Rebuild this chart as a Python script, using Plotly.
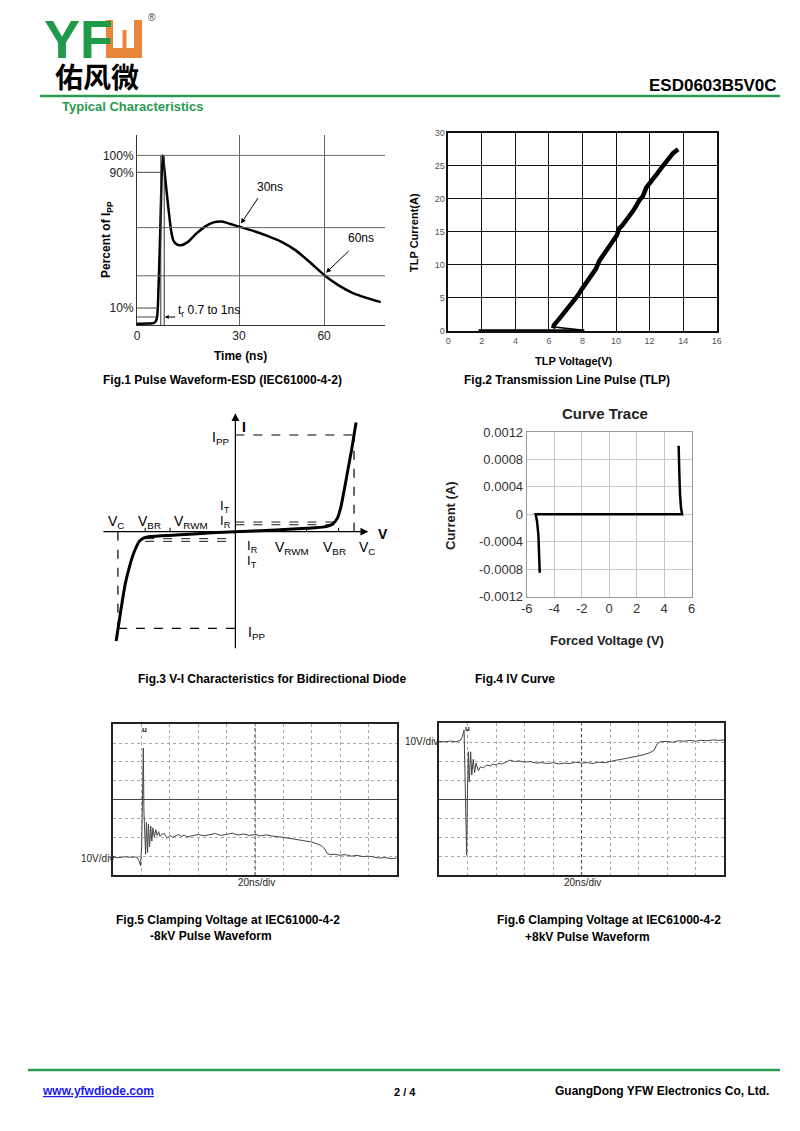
import plotly.graph_objects as go

W, H = 800, 1131
def PX(x): return x / W
def PY(y): return 1 - y / H

FONT = "Arial, Liberation Sans, Helvetica, sans-serif"
GREEN = "#2a9a50"
ORANGE = "#e8873c"

# ---------------- data ----------------
# Fig.1 ESD pulse waveform (time ns, percent of Ipp)
f1_time = [-6, -2, 0, 0.7, 1.1, 1.4, 2.2, 3.0, 3.4, 4.0, 5.0, 6.0, 6.8, 8.0, 9.5, 12, 15, 18, 21, 24, 27, 30, 35, 40, 45, 50, 55, 60, 65, 70, 75, 80]
f1_pct = [0.8, 0.9, 1.3, 2.5, 5, 12, 55, 100, 96, 86, 70, 56, 50, 47.5, 47, 49, 54, 58, 60.5, 61, 59.5, 58, 55.5, 52.5, 49, 44, 37, 29.5, 23.5, 19, 16, 13.5]
f1_xticks = ["0", "30", "60"]
f1_yticks = ["10%", "90%", "100%"]

# Fig.2 TLP
f2_base_v = [1.8, 8.1]
f2_base_i = [0.05, 0.05]
f2_ret_v = [6.3, 8.1]
f2_ret_i = [0.6, 0.1]
f2_v = [6.25, 6.3, 6.6, 7.0, 7.45, 7.7, 7.95, 8.3, 8.65, 8.8, 9.0, 9.35, 9.7, 9.9, 10.05, 10.2, 10.35, 10.7, 11.05, 11.4, 11.6, 11.8, 12.1, 12.3, 12.45, 12.8, 13.1, 13.4, 13.7]
f2_i = [0.4, 0.9, 1.8, 3.0, 4.3, 5.3, 6.3, 7.6, 9.0, 9.4, 10.6, 12.0, 13.2, 14.2, 14.5, 15.6, 15.9, 17.1, 18.3, 19.8, 20.4, 21.7, 22.6, 23.2, 23.8, 25.0, 26.0, 26.9, 27.5]

# Fig.3 schematic V-I curve (normalized units)
f3_v = [-1.005, -0.97, -0.93, -0.89, -0.85, -0.81, -0.77, -0.72, -0.5, -0.2, 0, 0.3, 0.6, 0.75, 0.82, 0.86, 0.89, 0.92, 0.95, 0.98, 1.017]
f3_i = [-1.13, -0.85, -0.55, -0.35, -0.2, -0.1, -0.065, -0.05, -0.035, -0.012, 0, 0.015, 0.035, 0.05, 0.08, 0.14, 0.26, 0.45, 0.65, 0.85, 1.13]

# Fig.4 Curve trace
f4_v = [-5.05, -5.08, -5.15, -5.25, -5.35, 0, 5.30, 5.22, 5.15, 5.10, 5.05]
f4_i = [-0.00085, -0.0006, -0.0003, -0.0001, 0, 0, 0, 0.0001, 0.0003, 0.0006, 0.001]
f4_xvals = [-6, -4, -2, 0, 2, 4, 6]
f4_xlabels = ["-6", "-4", "-2", "0", "2", "4", "6"]
f4_yvals = [0.0012, 0.0008, 0.0004, 0, -0.0004, -0.0008, -0.0012]
f4_ylabels = ["0.0012", "0.0008", "0.0004", "0", "-0.0004", "-0.0008", "-0.0012"]

# Fig.5 -8kV scope trace (divisions)
f5_x = [0, 0.2, 0.4, 0.6, 0.75, 0.85, 0.92, 0.96, 1.0, 1.04, 1.06, 1.08, 1.11, 1.14, 1.17, 1.21, 1.24, 1.28, 1.32, 1.36, 1.40, 1.45, 1.5, 1.55, 1.6, 1.65, 1.7, 1.8, 1.9, 2.0, 2.1, 2.2, 2.3, 2.4, 2.5, 2.6, 2.8, 3.0, 3.2, 3.4, 3.6, 3.8, 4.0, 4.2, 4.4, 4.6, 4.8, 5.0, 5.2, 5.4, 5.6, 5.8, 6.0, 6.2, 6.4, 6.6, 6.8, 7.0, 7.2, 7.35, 7.45, 7.55, 7.65, 7.8, 8.0, 8.2, 8.4, 8.6, 8.8, 9.0, 9.2, 9.4, 9.6, 9.8, 10]
f5_y = [-3.05, -3.08, -3.03, -3.06, -3.04, -3.08, -3.3, -3.5, -2.5, 0.5, 2.74, -0.6, -1.9, -2.9, -1.2, -2.8, -1.3, -2.5, -1.4, -2.2, -1.5, -2.0, -1.6, -1.9, -1.7, -1.95, -1.85, -1.8, -2.05, -1.9, -2.0, -1.92, -1.85, -1.95, -1.88, -1.98, -1.9, -1.85, -1.92, -1.88, -1.8, -1.9, -1.85, -1.78, -1.88, -1.82, -1.9, -1.85, -1.92, -1.87, -1.93, -1.95, -2.0, -2.05, -2.1, -2.12, -2.2, -2.25, -2.35, -2.45, -2.6, -2.85, -2.92, -2.9, -2.95, -2.92, -3.0, -2.96, -3.02, -3.0, -3.05, -3.1, -3.08, -3.13, -3.1]

# Fig.6 +8kV scope trace (divisions)
f6_x = [0, 0.2, 0.4, 0.6, 0.75, 0.82, 0.88, 0.92, 0.97, 1.0, 1.03, 1.06, 1.09, 1.11, 1.15, 1.2, 1.25, 1.3, 1.38, 1.45, 1.55, 1.67, 1.8, 1.9, 2.0, 2.1, 2.2, 2.35, 2.5, 2.65, 2.8, 3.0, 3.2, 3.4, 3.6, 3.8, 4.0, 4.2, 4.4, 4.6, 4.8, 5.0, 5.2, 5.4, 5.6, 5.8, 6.0, 6.2, 6.4, 6.6, 6.8, 7.0, 7.2, 7.4, 7.55, 7.65, 7.75, 8.0, 8.2, 8.4, 8.6, 8.8, 9.0, 9.2, 9.4, 9.6, 9.8, 10]
f6_y = [3.05, 3.02, 3.06, 3.03, 3.1, 3.3, 3.64, 1.0, -2.95, 0.5, 2.5, 0.9, 2.2, 2.5, 1.27, 2.1, 1.4, 1.9, 1.5, 1.7, 1.65, 1.8, 1.75, 1.85, 1.8, 1.9, 1.85, 1.95, 2.06, 1.98, 2.02, 1.95, 1.98, 1.9, 1.93, 1.88, 1.92, 1.86, 1.9, 1.88, 1.95, 1.9, 1.93, 1.88, 1.95, 1.92, 2.0, 2.05, 2.1, 2.15, 2.22, 2.28, 2.35, 2.45, 2.58, 2.9, 3.02, 3.05, 3.0, 3.08, 3.05, 3.1, 3.06, 3.1, 3.08, 3.12, 3.1, 3.12]

# ---------------- traces ----------------
traces = [
    go.Scatter(x=f1_time, y=f1_pct, xaxis="x", yaxis="y", mode="lines",
               line=dict(color="black", width=2.5, shape="spline", smoothing=0.5)),
    go.Scatter(x=f2_base_v, y=f2_base_i, xaxis="x2", yaxis="y2", mode="lines",
               line=dict(color="black", width=3)),
    go.Scatter(x=f2_ret_v, y=f2_ret_i, xaxis="x2", yaxis="y2", mode="lines",
               line=dict(color="black", width=1.5)),
    go.Scatter(x=f2_v, y=f2_i, xaxis="x2", yaxis="y2", mode="lines",
               line=dict(color="black", width=4.5)),
    go.Scatter(x=f3_v, y=f3_i, xaxis="x3", yaxis="y3", mode="lines",
               line=dict(color="black", width=3, shape="spline", smoothing=0.5)),
    go.Scatter(x=f4_v, y=f4_i, xaxis="x4", yaxis="y4", mode="lines",
               line=dict(color="black", width=2.5)),
    go.Scatter(x=f5_x, y=f5_y, xaxis="x5", yaxis="y5", mode="lines",
               line=dict(color="#444", width=1)),
    go.Scatter(x=f6_x, y=f6_y, xaxis="x6", yaxis="y6", mode="lines",
               line=dict(color="#444", width=1)),
]

fig = go.Figure(traces)

scope_x = dict(range=[0, 10], dtick=1, tick0=0, showticklabels=False, ticks="",
               showgrid=True, gridcolor="#a8a8a8", griddash="dot", gridwidth=1,
               showline=True, mirror=True, linecolor="#222", linewidth=1.5, zeroline=False)
scope_y = dict(range=[-4, 4], dtick=1, tick0=0, showticklabels=False, ticks="",
               showgrid=True, gridcolor="#a8a8a8", griddash="dot", gridwidth=1,
               showline=True, mirror=True, linecolor="#222", linewidth=1.5,
               zeroline=True, zerolinecolor="#444", zerolinewidth=1.2)

fig.update_layout(
    width=W, height=H, margin=dict(l=0, r=0, t=0, b=0, autoexpand=False),
    paper_bgcolor="white", plot_bgcolor="white", showlegend=False,
    font=dict(family=FONT, color="black"),
    xaxis=dict(domain=[PX(137), PX(385)], anchor="y", range=[-6, 81.5],
               tickvals=[-6, 30, 60], ticktext=f1_xticks, ticks="",
               showgrid=True, gridcolor="#666", gridwidth=1, zeroline=False,
               showline=True, linecolor="#333", linewidth=1, automargin=False,
               tickfont=dict(size=12, color="#222")),
    yaxis=dict(domain=[PY(325), PY(135)], anchor="x", range=[0, 112],
               tickvals=[10, 90, 100], ticktext=f1_yticks, ticks="",
               showgrid=False, zeroline=False, showline=True, linecolor="#333", linewidth=1,
               automargin=False, tickfont=dict(size=12, color="#222")),
    xaxis2=dict(domain=[PX(448.3), PX(716.7)], anchor="y2", range=[0, 16], dtick=2, tick0=0,
                ticks="", showgrid=True, gridcolor="#111", gridwidth=1, zeroline=False,
                showline=True, mirror=True, linecolor="#111", linewidth=1.5, automargin=False,
                tickfont=dict(size=9, color="#555")),
    yaxis2=dict(domain=[PY(331), PY(132.7)], anchor="x2", range=[0, 30], dtick=5, tick0=0,
                ticks="", showgrid=True, gridcolor="#111", gridwidth=1, zeroline=False,
                showline=True, mirror=True, linecolor="#111", linewidth=1.5, automargin=False,
                tickfont=dict(size=9, color="#555")),
    xaxis3=dict(domain=[PX(93), PX(383.7)], anchor="y3", range=[-1.2, 1.25], visible=False),
    yaxis3=dict(domain=[PY(649.7), PY(413.7)], anchor="x3", range=[-1.22, 1.22], visible=False),
    xaxis4=dict(domain=[PX(526.7), PX(691.7)], anchor="y4", range=[-6, 6],
                tickvals=f4_xvals, ticktext=f4_xlabels,
                ticks="", showgrid=True, gridcolor="#c8c8c8", zeroline=False,
                showline=True, mirror=True, linecolor="#999", linewidth=1, automargin=False,
                tickfont=dict(size=13, color="#333")),
    yaxis4=dict(domain=[PY(596.7), PY(432)], anchor="x4", range=[-0.0012, 0.0012],
                tickvals=f4_yvals, ticktext=f4_ylabels, ticks="",
                showgrid=True, gridcolor="#c8c8c8", zeroline=False,
                showline=True, mirror=True, linecolor="#999", linewidth=1, automargin=False,
                tickfont=dict(size=13, color="#333")),
    xaxis5=dict(domain=[PX(113.3), PX(396.7)], anchor="y5", **scope_x),
    yaxis5=dict(domain=[PY(875), PY(724.3)], anchor="x5", **scope_y),
    xaxis6=dict(domain=[PX(439), PX(724)], anchor="y6", **scope_x),
    yaxis6=dict(domain=[PY(875), PY(723.3)], anchor="x6", **scope_y),
)

shapes = []
def pline(x0, y0, x1, y1, color="black", width=1, dash="solid"):
    shapes.append(dict(type="line", xref="paper", yref="paper", x0=PX(x0), y0=PY(y0),
                       x1=PX(x1), y1=PY(y1), line=dict(color=color, width=width, dash=dash)))
def prect(x0, y0, x1, y1, color):
    shapes.append(dict(type="rect", xref="paper", yref="paper", x0=PX(x0), y0=PY(y0),
                       x1=PX(x1), y1=PY(y1), line=dict(width=0), fillcolor=color))
def dline(xr, yr, x0, y0, x1, y1, color="black", width=1, dash="solid"):
    shapes.append(dict(type="line", xref=xr, yref=yr, x0=x0, y0=y0, x1=x1, y1=y1,
                       line=dict(color=color, width=width, dash=dash)))

# header / footer rules
pline(40, 96, 780, 96, GREEN, 2.5)
pline(28, 1070, 780, 1070, GREEN, 2.5)

# logo orange block
prect(106, 20, 113, 58, ORANGE)
prect(134, 20, 142, 58, ORANGE)
prect(106, 48, 142, 58, ORANGE)
prect(122.5, 30, 126.5, 48.5, ORANGE)

# Fig.1 reference lines
for yv in [100, 57.4, 29]:
    dline("x", "y", -6, yv, 81.5, yv, "#666", 1)
dline("x", "y", -6, 90, 2.6, 90, "#444", 1)
dline("x", "y", -6, 10, 1.4, 10, "#444", 1)
dline("x", "y", -6, 4.7, 1.0, 4.7, "#444", 1)
dline("x", "y", 2.4, 0, 2.4, 100, "#333", 1)
dline("x", "y", 3.6, 0, 3.6, 100, "#333", 1)

# Fig.3 dashed guides
DASH = "dash"
dline("x3", "y3", 0, 1.0, 1.0, 1.0, "black", 1.2, DASH)
dline("x3", "y3", 1.0, 0, 1.0, 1.0, "black", 1.2, DASH)
dline("x3", "y3", -0.99, -1.0, 0, -1.0, "black", 1.2, DASH)
dline("x3", "y3", -0.99, 0, -0.99, -1.0, "black", 1.2, DASH)
dline("x3", "y3", 0, 0.10, 0.87, 0.10, "black", 0.9, DASH)
dline("x3", "y3", 0, 0.072, 0.87, 0.072, "black", 0.9, DASH)
dline("x3", "y3", -0.76, -0.072, 0, -0.072, "black", 0.9, DASH)
dline("x3", "y3", -0.76, -0.10, 0, -0.10, "black", 0.9, DASH)
for xv in [-0.76, -0.55, 0.6, 0.87]:
    dline("x3", "y3", xv, 0, xv, 0.04, "black", 1)

# scope center verticals
dline("x5", "y5", 5, -4, 5, 4, "#555", 1.2, "dot")
dline("x6", "y6", 5, -4, 5, 4, "#555", 1.2, "dot")

fig.update_layout(shapes=shapes)

ann = []
def txt(x, y, s, size=12, color="black", xanchor="center", yanchor="middle", angle=0, family=FONT):
    ann.append(dict(x=PX(x), y=PY(y), xref="paper", yref="paper", text=s, showarrow=False,
                    font=dict(size=size, color=color, family=family),
                    xanchor=xanchor, yanchor=yanchor, textangle=angle))
def arrow(xr, yr, x, y, ax, ay, head=2, width=1, size=1):
    ann.append(dict(x=x, y=y, xref=xr, yref=yr, ax=ax, ay=ay, text="", showarrow=True,
                    arrowhead=head, arrowwidth=width, arrowsize=size, arrowcolor="black"))

# header
txt(42, 39, "<b>YF</b>", 54, "#1f9a48", xanchor="left")
txt(152, 18, "®", 10, "#444")
txt(53, 76, "<b>佑风微</b>", 28, xanchor="left", family="Noto Sans CJK SC")
txt(779, 85, "<b>ESD0603B5V0C</b>", 17, xanchor="right")
txt(60, 106, "<b>Typical Characteristics</b>", 13, GREEN, xanchor="left")

# footer
txt(40, 1091, "<b><u>www.yfwdiode.com</u></b>", 12, "#1a1aee", xanchor="left")
txt(405, 1092, "<b>2 / 4</b>", 11)
txt(771, 1091, "<b>GuangDong YFW Electronics Co, Ltd.</b>", 12, xanchor="right")

# Fig.1 labels
txt(107, 240, "<b>Percent of I<sub>PP</sub></b>", 12, angle=-90)
txt(240, 356, "<b>Time (ns)</b>", 12)
txt(270, 187, "30ns", 12)
txt(361, 238, "60ns", 12)
txt(176, 311, "t<sub>r</sub> 0.7 to 1ns", 12, xanchor="left")
arrow("x", "y", 30.7, 59.8, 18, -27)
arrow("x", "y", 60.7, 30.8, 24, -23)
arrow("x", "y", 3.8, 4.7, 12, 0, head=2, size=0.8)
txt(222, 380, "<b>Fig.1 Pulse Waveform-ESD (IEC61000-4-2)</b>", 12)

# Fig.2 labels
txt(414, 232, "<b>TLP Current(A)</b>", 11, angle=-90)
txt(574, 361, "<b>TLP Voltage(V)</b>", 11)
txt(567, 380, "<b>Fig.2 Transmission Line Pulse (TLP)</b>", 12)

# Fig.3 labels & axes
arrow("x3", "y3", 1.12, 0, -1.125, 0, head=2, width=1.2, size=1.3)
ann[-1].update(axref="x3", ayref="y3")
arrow("x3", "y3", 0, 1.225, 0, -1.22, head=2, width=1.2, size=1.3)
ann[-1].update(axref="x3", ayref="y3")
txt(244, 427, "<b>I</b>", 14)
txt(383, 534, "<b>V</b>", 14)
txt(220, 438, "I<sub>PP</sub>", 14)
txt(225, 506, "I<sub>T</sub>", 13)
txt(225, 521, "I<sub>R</sub>", 13)
txt(116, 522, "V<sub>C</sub>", 14)
txt(149, 522, "V<sub>BR</sub>", 14)
txt(191, 522, "V<sub>RWM</sub>", 14)
txt(252, 546, "I<sub>R</sub>", 13)
txt(252, 561, "I<sub>T</sub>", 13)
txt(292, 548, "V<sub>RWM</sub>", 14)
txt(334, 548, "V<sub>BR</sub>", 14)
txt(367, 548, "V<sub>C</sub>", 14)
txt(256, 633, "I<sub>PP</sub>", 14)
txt(272, 679, "<b>Fig.3 V-I Characteristics for Bidirectional Diode</b>", 12)

# Fig.4 labels
txt(605, 413, "<b>Curve Trace</b>", 15, "#222")
txt(450, 516, "<b>Current (A)</b>", 13, "#222", angle=-90)
txt(607, 640, "<b>Forced Voltage (V)</b>", 13, "#222")
txt(473, 679, "<b>Fig.4 IV Curve</b>", 12, xanchor="left")

# Fig.5 labels
txt(116, 858, "10V/div", 10, "#222", xanchor="right")
txt(256, 882, "20ns/div", 10, "#222")
txt(144, 729, "<b>u</b>", 8, "#222")
txt(228, 920, "<b>Fig.5 Clamping Voltage at IEC61000-4-2</b>", 12)
txt(211, 936, "<b>-8kV Pulse Waveform</b>", 12)

# Fig.6 labels
txt(440, 741, "10V/div", 10, "#222", xanchor="right")
txt(582, 882, "20ns/div", 10, "#222")
txt(467, 728, "<b>u</b>", 8, "#222")
txt(609, 920, "<b>Fig.6 Clamping Voltage at IEC61000-4-2</b>", 12)
txt(587, 937, "<b>+8kV Pulse Waveform</b>", 12)

fig.update_layout(annotations=ann)
fig.write_html("out.html", config={"displayModeBar": False},
               post_script="document.body.style.margin='0';")
